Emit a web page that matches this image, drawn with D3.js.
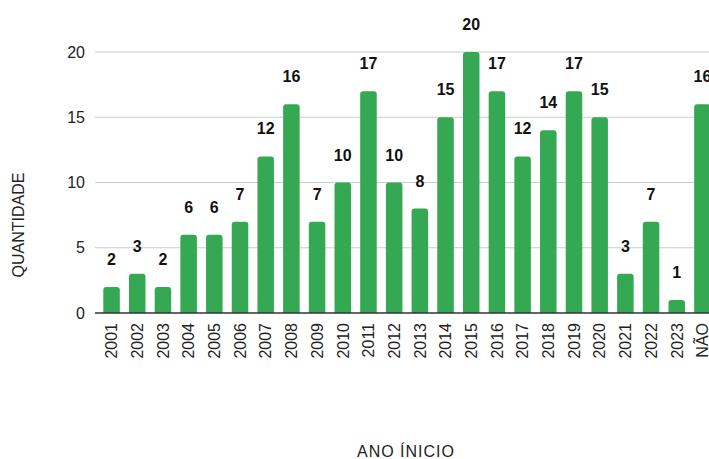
<!DOCTYPE html>
<html>
<head>
<meta charset="utf-8">
<script src="https://cdn.jsdelivr.net/npm/d3@7"></script>
<style>
  body { margin: 0; background: #fff; }
  svg { display: block; font-family: "Liberation Sans", Arial, sans-serif; }
</style>
</head>
<body>
<svg id="chart" width="709" height="459"></svg>
<script>
const anos = ["2001", "2002", "2003", "2004", "2005", "2006", "2007", "2008", "2009", "2010",
    "2011", "2012", "2013", "2014", "2015", "2016", "2017", "2018", "2019", "2020",
    "2021", "2022", "2023", "NÃO"];
const quantidade = [2, 3, 2, 6, 6, 7, 12, 16, 7, 10, 17, 10, 8, 15, 20, 17, 12, 14, 17, 15, 3, 7, 1, 16];
const yTicks = [0, 5, 10, 15, 20];

const svg = d3.select('#chart');
const width = 709,
    plotLeft = 95,
    plotTop = 52,
    plotBottom = 313;

const x = d3.scaleBand()
    .domain(anos)
    .range([plotLeft, 719])
    .paddingInner(0.357)
    .paddingOuter(0.323);

const y = d3.scaleLinear()
    .domain([0, 20])
    .range([plotBottom, plotTop]);

// grid
svg.append('g')
    .selectAll('line')
    .data(yTicks.filter(d => d > 0))
    .join('line')
    .attr('x1', plotLeft)
    .attr('x2', width)
    .attr('y1', d => y(d))
    .attr('y2', d => y(d))
    .attr('stroke', '#cccccc')
    .attr('stroke-width', 1.2);

// y tick labels
svg.append('g')
    .selectAll('text')
    .data(yTicks)
    .join('text')
    .attr('x', 85)
    .attr('y', d => y(d))
    .attr('dy', '0.35em')
    .attr('text-anchor', 'end')
    .attr('font-size', 16)
    .attr('fill', '#222')
    .text(d => d);

// bars with rounded top
const r = 3;
svg.append('g')
    .selectAll('path')
    .data(anos)
    .join('path')
    .attr('fill', '#34a853')
    .attr('d', (d, i) => {
        const x0 = x(d), w = x.bandwidth(), y0 = y(quantidade[i]), yb = y(0);
        return `M${x0},${yb}V${y0 + r}Q${x0},${y0} ${x0 + r},${y0}H${x0 + w - r}Q${x0 + w},${y0} ${x0 + w},${y0 + r}V${yb}Z`;
    });

// value labels
svg.append('g')
    .selectAll('text')
    .data(anos)
    .join('text')
    .attr('x', d => x(d) + x.bandwidth() / 2)
    .attr('y', (d, i) => y(quantidade[i]) - 22)
    .attr('text-anchor', 'middle')
    .attr('font-size', 16)
    .attr('font-weight', 'bold')
    .attr('fill', '#111')
    .text((d, i) => quantidade[i]);

// baseline
svg.append('line')
    .attr('x1', plotLeft)
    .attr('x2', width)
    .attr('y1', y(0))
    .attr('y2', y(0))
    .attr('stroke', '#333')
    .attr('stroke-width', 1.3);

// x tick labels
svg.append('g')
    .selectAll('text')
    .data(anos)
    .join('text')
    .attr('transform', d => `translate(${x(d) + x.bandwidth() / 2},323) rotate(-90)`)
    .attr('dy', '0.36em')
    .attr('text-anchor', 'end')
    .attr('font-size', 16)
    .attr('fill', '#222')
    .text(d => d);

// axis titles
svg.append('text')
    .attr('transform', 'translate(18,225) rotate(-90)')
    .attr('dy', '0.35em')
    .attr('text-anchor', 'middle')
    .attr('font-size', 16)
    .attr('fill', '#222')
    .text('QUANTIDADE');

svg.append('text')
    .attr('x', 406)
    .attr('y', 451)
    .attr('dy', '0.35em')
    .attr('text-anchor', 'middle')
    .attr('font-size', 16)
    .attr('letter-spacing', 1)
    .attr('fill', '#222')
    .text('ANO ÍNICIO');
</script>
</body>
</html>
